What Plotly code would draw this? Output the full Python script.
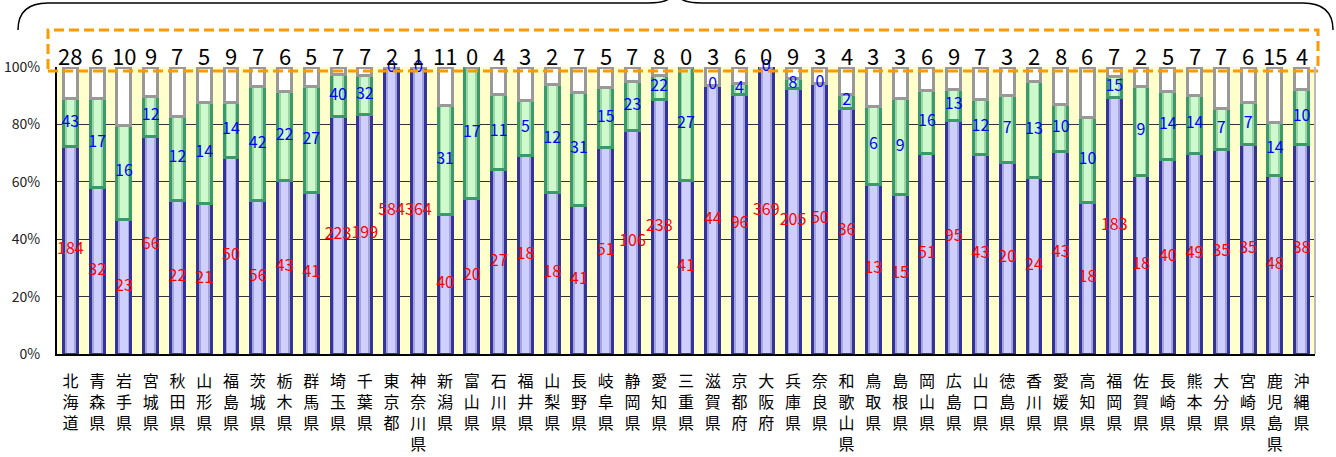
import numpy as np
import plotly.graph_objects as go

prefectures = ["北海道", "青森県", "岩手県", "宮城県", "秋田県", "山形県", "福島県", "茨城県", "栃木県", "群馬県",
               "埼玉県", "千葉県", "東京都", "神奈川県", "新潟県", "富山県", "石川県", "福井県", "山梨県", "長野県",
               "岐阜県", "静岡県", "愛知県", "三重県", "滋賀県", "京都府", "大阪府", "兵庫県", "奈良県", "和歌山県",
               "鳥取県", "島根県", "岡山県", "広島県", "山口県", "徳島県", "香川県", "愛媛県", "高知県", "福岡県",
               "佐賀県", "長崎県", "熊本県", "大分県", "宮崎県", "鹿児島県", "沖縄県"]

blue_counts = [184, 32, 23, 66, 22, 21, 50, 56, 43, 41,
               223, 199, 584, 364, 40, 20, 27, 18, 18, 41,
               51, 106, 238, 41, 44, 96, 369, 205, 50, 36,
               13, 15, 51, 95, 43, 20, 24, 43, 18, 183,
               18, 40, 49, 35, 35, 48, 38]
green_counts = [43, 17, 16, 12, 12, 14, 14, 42, 22, 27,
                40, 32, 0, 0, 31, 17, 11, 5, 12, 31,
                15, 23, 22, 27, 0, 4, 0, 8, 0, 2,
                6, 9, 16, 13, 12, 7, 13, 10, 10, 15,
                9, 14, 14, 7, 7, 14, 10]
white_counts = [28, 6, 10, 9, 7, 5, 9, 7, 6, 5,
                7, 7, 2, 1, 11, 0, 4, 3, 2, 7,
                5, 7, 8, 0, 3, 6, 0, 9, 3, 4,
                3, 3, 6, 9, 7, 3, 2, 8, 6, 7,
                2, 5, 7, 7, 6, 15, 4]

tick_percent = [0, 20, 40, 60, 80, 100]

b = np.array(blue_counts, dtype=float)
g = np.array(green_counts, dtype=float)
w = np.array(white_counts, dtype=float)
tot = b + g + w
bp = b / tot * 100
gp = g / tot * 100

FONT = "Noto Sans CJK JP"

series = [
    (blue_counts, "#a4a4da", "#cfcffd", "#333399"),
    (green_counts, "#9cd4a4", "#cdf9cd", "#3a9a6a"),
    (white_counts, "#ffffff", "#ffffff", "#999999"),
]

fig = go.Figure()
# layer 1: edge-tone fill
for vals, edge, hi, line in series:
    fig.add_trace(go.Bar(x=prefectures, y=vals, xaxis="x", yaxis="y",
                         marker=dict(color=edge, line=dict(width=0)), hoverinfo="skip"))
# layer 2: central highlight (gradient look)
for vals, edge, hi, line in series:
    fig.add_trace(go.Bar(x=prefectures, y=vals, xaxis="x2", yaxis="y2", width=0.27,
                         marker=dict(color=hi, line=dict(width=0)), hoverinfo="skip"))
# layer 3: outlines
for vals, edge, hi, line in series:
    fig.add_trace(go.Bar(x=prefectures, y=vals, xaxis="x3", yaxis="y3",
                         marker=dict(color="rgba(0,0,0,0)", line=dict(color=line, width=3))))

fig.add_trace(go.Scatter(x=prefectures, y=bp / 2, mode="text", text=[str(v) for v in blue_counts],
                         xaxis="x3", yaxis="y3",
                         textposition="middle center", cliponaxis=False,
                         textfont=dict(family=FONT, size=16, color="#ff0000")))
fig.add_trace(go.Scatter(x=prefectures, y=bp + gp / 2, mode="text", text=[str(v) for v in green_counts],
                         xaxis="x3", yaxis="y3",
                         textposition="middle center", cliponaxis=False,
                         textfont=dict(family=FONT, size=16, color="#0000ff")))

annotations = []
for name, v in zip(prefectures, white_counts):
    annotations.append(dict(x=name, y=100, xref="x", yref="y", text=str(v), showarrow=False,
                            yanchor="bottom", yshift=-6,
                            font=dict(family=FONT, size=22, color="#000000")))

W, H = 1336, 457
L, R, T, B = 57, 21, 67, 103
pw, ph = W - L - R, H - T - B


def px(x):
    return (x - L) / pw


def py(y):
    return (H - B - y) / ph


brace = (f"M {px(18)},{py(30)} Q {px(18)},{py(3)} {px(48)},{py(3)} "
         f"L {px(648)},{py(3)} Q {px(670)},{py(3)} {px(673)},{py(-6)} "
         f"M {px(677)},{py(-6)} Q {px(680)},{py(3)} {px(702)},{py(3)} "
         f"L {px(1303)},{py(3)} Q {px(1333)},{py(3)} {px(1333)},{py(30)}")

shapes = [
    dict(type="path", xref="paper", yref="paper", path=brace,
         line=dict(color="#000000", width=1.5)),
    dict(type="rect", xref="paper", yref="paper", x0=px(48), x1=px(1318), y0=py(71), y1=py(30),
         line=dict(color="#ff9900", width=3, dash="10px,5px"), fillcolor="rgba(0,0,0,0)"),
    dict(type="line", xref="paper", yref="paper", x0=1, x1=1, y0=0, y1=1,
         line=dict(color="#bbbbbb", width=2)),
]

xrange_ = [-0.5, len(prefectures) - 0.5]
hidden_x = dict(overlaying="x", range=xrange_, visible=False, type="category",
                categoryorder="array", categoryarray=prefectures)
hidden_y = dict(overlaying="y", range=[0, 100], visible=False)

fig.update_layout(
    barmode="stack", barnorm="percent", bargap=0.48,
    width=W, height=H,
    margin=dict(l=L, r=R, t=T, b=B, pad=0, autoexpand=False),
    plot_bgcolor="#ffffcc", paper_bgcolor="#ffffff",
    showlegend=False,
    annotations=annotations,
    shapes=shapes,
    font=dict(family=FONT),
    xaxis=dict(tickvals=prefectures, ticktext=["<br>".join(list(n)) for n in prefectures],
               range=xrange_, type="category", categoryorder="array", categoryarray=prefectures,
               tickangle=0, tickfont=dict(family=FONT, size=16, color="#000000"),
               showline=True, linecolor="#000000", linewidth=2, ticks="",
               ticklabelstandoff=12, showgrid=False, automargin=False),
    yaxis=dict(range=[0, 100], tickvals=tick_percent, ticktext=[f"{v}%" for v in tick_percent],
               tickfont=dict(family=FONT, size=14, color="#222222"),
               showgrid=True, gridcolor="#333333", gridwidth=1,
               showline=True, linecolor="#000000", linewidth=2, ticks="",
               ticklabelstandoff=12, zeroline=False, automargin=False),
    xaxis2=hidden_x, yaxis2=hidden_y,
    xaxis3=hidden_x, yaxis3=hidden_y,
)

fig.write_html("out.html", config={"displayModeBar": False},
               post_script="document.body.style.margin='0px';document.body.style.overflow='hidden';")
